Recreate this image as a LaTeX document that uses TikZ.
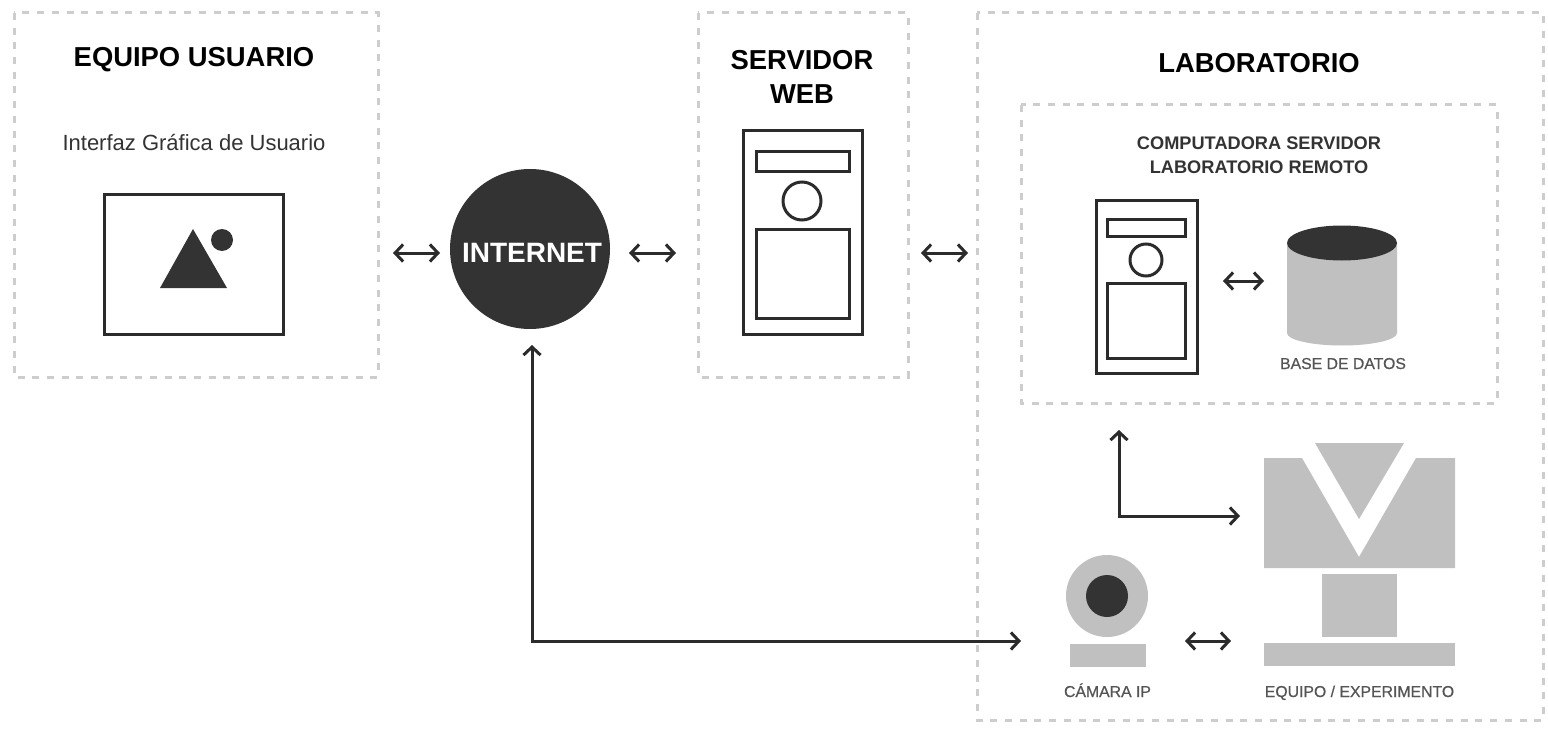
\documentclass[tikz,border=0pt]{standalone}
\usepackage{fontspec}
\setmainfont{Liberation Sans}
\newfontfamily\medfont[FakeBold=0.6]{Liberation Sans}
\usetikzlibrary{arrows.meta,shapes.geometric}
\definecolor{inkc}{HTML}{2B2B2B}
\definecolor{darkc}{HTML}{333333}
\definecolor{grayc}{HTML}{C0C0C0}
\definecolor{framec}{HTML}{CDCDCD}
\definecolor{textc}{HTML}{555555}
\tikzset{
  frame/.style={draw=framec,line width=3pt,dash pattern=on 7pt off 7.7pt,fill=none},
  outline/.style={draw=inkc,line width=3pt,fill=white},
  link/.style={draw=inkc,line width=3pt,{Straight Barb[length=8pt,width=17pt,line width=3pt]}-{Straight Barb[length=8pt,width=17pt,line width=3pt]}},
  title/.style={font=\bfseries\fontsize{27.4}{34}\selectfont,text=black,align=center,inner sep=0pt},
  sub/.style={font=\bfseries\fontsize{18.2}{24.5}\selectfont,text=darkc,align=center,inner sep=0pt},
  small/.style={font=\medfont\fontsize{15.8}{18}\selectfont,text=textc,inner sep=0pt,anchor=base}
}
\begin{document}
\begin{tikzpicture}[x=1pt,y=-1pt]
\useasboundingbox (0,0) rectangle (1548,733);
\fill[white] (0,0) rectangle (1548,733);
% frames
\draw[frame] (14,13) rectangle (378,377);
\draw[frame] (698,13) rectangle (908,377);
\draw[frame] (977,13) rectangle (1543,720);
\draw[frame] (1021,105) rectangle (1497,403);
% titles
\node[title] (t1) at (194,60) {EQUIPO USUARIO};
\node[title] (t2) at (802,77) {SERVIDOR\\WEB};
\node[title] (t3) at (1259,63) {LABORATORIO};
\node[font=\fontsize{22}{26}\selectfont,text=darkc,inner sep=0pt] (t4) at (194,143) {Interfaz Gráfica de Usuario};
\node[sub] (t5) at (1259,155) {COMPUTADORA SERVIDOR\\LABORATORIO REMOTO};
% screen
\node[outline,rectangle,minimum width=179pt,minimum height=140pt,inner sep=0pt] (screen) at (193.5,264) {};
\fill[darkc] (193,229) -- (227,288) -- (160,288) -- cycle;
\fill[darkc] (222,240) circle (11);
% internet
\node[circle,fill=darkc,draw=none,minimum size=160pt,inner sep=0pt] (net) at (530,249) {};
\node[text=white,inner sep=0pt,font=\bfseries\fontsize{28}{33}\selectfont] (t9) at (532,253) {INTERNET};
% web server
\node[outline,rectangle,minimum width=119pt,minimum height=203pt,inner sep=0pt] (web) at (802.5,232.5) {};
\draw[outline] (756,152) rectangle (849,172);
\draw[outline] (802,201) circle (19);
\draw[outline] (756,229) rectangle (849,318);
% lab server
\node[outline,rectangle,minimum width=101pt,minimum height=173pt,inner sep=0pt] (lab) at (1146.5,286.5) {};
\draw[outline] (1107,219) rectangle (1185,236);
\draw[outline] (1146,260) circle (16);
\draw[outline] (1107,283) rectangle (1185,358);
% database
\fill[grayc] (1287,243) -- (1287,333) .. controls (1287,340) and (1312,345.5) .. (1342,345.5) .. controls (1372,345.5) and (1397,340) .. (1397,333) -- (1397,243) -- cycle;
\fill[darkc] (1342,243) ellipse[x radius=55,y radius=17.5];
\node[small] (t6) at (1343,369) {BASE DE DATOS};
% equipment
\fill[grayc] (1264,458) -- (1302,458) -- (1359,557) -- (1416,458) -- (1455,458) -- (1455,568) -- (1264,568) -- cycle;
\fill[grayc] (1315,443) -- (1404,443) -- (1359,519) -- cycle;
\fill[grayc] (1322,574) rectangle (1397,637);
\fill[grayc] (1264,643) rectangle (1455,666);
\node[small] (t7) at (1359.5,697) {EQUIPO / EXPERIMENTO};
% camera
\fill[grayc] (1107,596) circle (41);
\fill[darkc] (1107,596) circle (21);
\fill[grayc] (1070,644) rectangle (1146,667);
\node[small] (t8) at (1107.5,697) {CÁMARA IP};
% connector anchors
\coordinate (a1) at (393,253); \coordinate (a2) at (440,253);
\coordinate (b1) at (629,253); \coordinate (b2) at (676,253);
\coordinate (c1) at (921,253); \coordinate (c2) at (968,253);
\coordinate (d1) at (1223,281); \coordinate (d2) at (1264,281);
\coordinate (e1) at (1185,641); \coordinate (e2) at (1231,641);
\coordinate (f1) at (1119,430); \coordinate (f2) at (1240,516);
\coordinate (g1) at (532,345); \coordinate (g2) at (1021,641);
\draw[link] (a1) -- (a2);
\draw[link] (b1) -- (b2);
\draw[link] (c1) -- (c2);
\draw[link] (d1) -- (d2);
\draw[link] (e1) -- (e2);
\draw[link] (f1) |- (f2);
\draw[link] (g1) |- (g2);
\end{tikzpicture}
\end{document}
